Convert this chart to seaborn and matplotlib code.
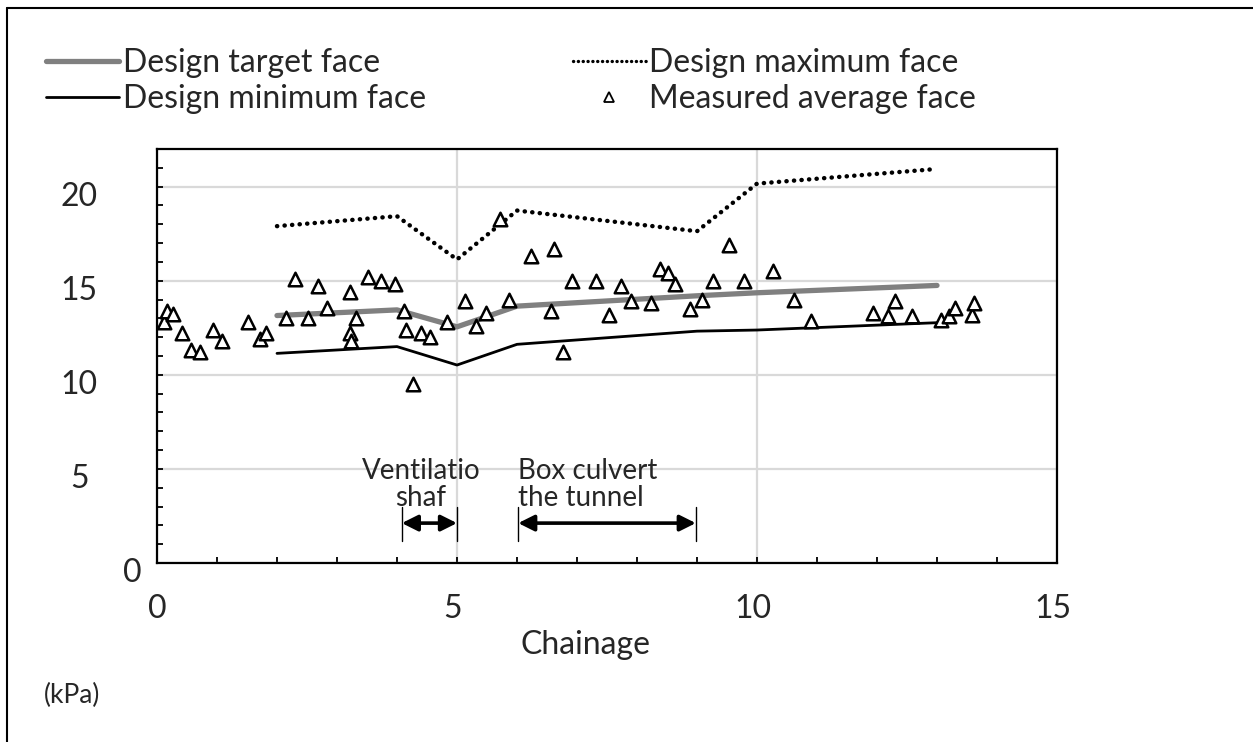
import matplotlib
matplotlib.use("Agg")
import matplotlib.pyplot as plt
import matplotlib.transforms as mtransforms
from matplotlib.lines import Line2D
from matplotlib.ticker import MultipleLocator
import seaborn as sns
import pandas as pd

# ---------------- data ----------------
design_x = [2, 4, 5, 6, 9, 10, 13]
design_target = [13.15, 13.45, 12.55, 13.65, 14.2, 14.36, 14.75]
design_min = [11.14, 11.5, 10.52, 11.62, 12.32, 12.38, 12.77]
design_max = [17.9, 18.43, 16.13, 18.73, 17.63, 20.16, 20.94]

meas_x = [0.12, 0.17, 0.26, 0.41, 0.56, 0.72, 0.94, 1.08, 1.51, 1.71, 1.82, 2.15,
          2.30, 2.51, 2.69, 2.84, 3.21, 3.22, 3.24, 3.32, 3.51, 3.73, 3.96, 4.11,
          4.15, 4.27, 4.40, 4.55, 4.84, 5.13, 5.32, 5.48, 5.71, 5.86, 6.23, 6.56,
          6.61, 6.76, 6.91, 7.32, 7.54, 7.73, 7.90, 8.23, 8.38, 8.52, 8.63, 8.89,
          9.09, 9.26, 9.54, 9.79, 10.27, 10.62, 10.90, 11.93, 12.19, 12.30, 12.59,
          13.07, 13.20, 13.30, 13.59, 13.62]
meas_y = [12.8, 13.4, 13.25, 12.2, 11.3, 11.2, 12.4, 11.8, 12.8, 11.9, 12.2, 13.0,
          15.07, 13.0, 14.7, 13.56, 14.4, 12.2, 11.8, 13.0, 15.2, 14.98, 14.8, 13.4,
          12.4, 9.5, 12.2, 12.0, 12.8, 13.9, 12.6, 13.3, 18.3, 14.0, 16.3, 13.4,
          16.7, 11.2, 15.0, 15.0, 13.2, 14.7, 13.9, 13.8, 15.6, 15.4, 14.8, 13.5,
          14.0, 15.0, 16.9, 15.0, 15.5, 14.0, 12.85, 13.3, 13.1, 13.9, 13.1,
          12.9, 13.1, 13.56, 13.2, 13.8]

legend_labels = ["Design target face", "Design minimum face",
                 "Design maximum face", "Measured average face"]
x_ticks = [0, 5, 10, 15]
y_ticks = [0, 5, 10, 15, 20]
x_label = "Chainage"
unit_label = "(kPa)"

vent_span = [4.08, 5.0]
vent_text = "Ventilatio\nshaf"
culvert_span = [6.02, 8.98]
culvert_text = "Box culvert\nthe tunnel"
span_y = 2.12

# ---------------- style ----------------
sns.set_theme(style="white")
plt.rcParams["font.family"] = ["Lato", "DejaVu Sans"]

W, H = 1253, 742
fig = plt.figure(figsize=(W / 100, H / 100), dpi=100)
ax = fig.add_axes([157 / W, 1 - 563 / H, (1057 - 157) / W, (563 - 149) / H])

df_design = pd.DataFrame({"x": design_x, "target": design_target,
                          "min": design_min, "max": design_max})
df_meas = pd.DataFrame({"x": meas_x, "y": meas_y})

sns.lineplot(data=df_design, x="x", y="target", ax=ax, color="#808080",
             lw=3.8, sort=False, estimator=None, solid_capstyle="round")
sns.lineplot(data=df_design, x="x", y="min", ax=ax, color="black",
             lw=2.0, sort=False, estimator=None)
sns.lineplot(data=df_design, x="x", y="max", ax=ax, color="black",
             lw=3.2, sort=False, estimator=None)
max_line = ax.lines[-1]
max_line.set_linestyle((0, (0.05, 1.65)))
max_line.set_dash_capstyle("round")

sns.scatterplot(data=df_meas, x="x", y="y", ax=ax, marker="^", s=95,
                facecolor="white", edgecolor="black", linewidth=1.8, zorder=5)

ax.set_xlim(0, 15)
ax.set_ylim(0, 22)
ax.set_xticks(x_ticks)
ax.set_yticks(y_ticks)
ax.xaxis.set_minor_locator(MultipleLocator(1))
ax.yaxis.set_minor_locator(MultipleLocator(1))
ax.grid(True, which="major", color="#d9d9d9", lw=1.6)
ax.set_axisbelow(True)
for sp in ax.spines.values():
    sp.set_color("black")
    sp.set_linewidth(1.6)

ax.tick_params(axis="both", which="both", direction="in", color="black",
               width=1.3, bottom=True, left=True, top=False, right=False)
ax.tick_params(axis="both", which="major", length=4)
ax.tick_params(axis="both", which="minor", length=4)
ax.tick_params(axis="x", which="major", labelsize=23, pad=22)
ax.tick_params(axis="y", which="major", labelsize=23, pad=56)
ax.set_xlabel("")
ax.set_ylabel("")

# y tick labels: centred, shifted down a little (as in the reference)
down = mtransforms.ScaledTranslation(0, -7 / 100, fig.dpi_scale_trans)
for lab in ax.get_yticklabels():
    lab.set_horizontalalignment("center")
    if lab.get_text() == "0":
        lab.set_transform(lab.get_transform() + down +
                          mtransforms.ScaledTranslation(53 / 100, 0, fig.dpi_scale_trans))
    else:
        lab.set_transform(lab.get_transform() + down)
left_shift = mtransforms.ScaledTranslation(-4 / 100, 0, fig.dpi_scale_trans)
for lab in ax.get_xticklabels():
    if lab.get_text() != "0":
        lab.set_transform(lab.get_transform() + left_shift)

# annotations (spans)
for span in (vent_span, culvert_span):
    ax.annotate("", xy=(span[0], span_y), xytext=(span[1], span_y),
                arrowprops=dict(arrowstyle="<|-|>", color="black", lw=2.6,
                                mutation_scale=24, shrinkA=0, shrinkB=0))
    for xv in span:
        ax.plot([xv, xv], [1.17, 2.97], color="black", lw=1.0)
ax.text(4.4, 2.75, vent_text, ha="center", va="bottom",
        fontsize=20, linespacing=1.05)
ax.text(culvert_span[0], 2.75, culvert_text, ha="left", va="bottom",
        fontsize=20, linespacing=1.05)

fig.text(585 / W, 1 - 645 / H, x_label, ha="center", va="center", fontsize=23)
fig.text(72 / W, 1 - 695 / H, unit_label, ha="center", va="center", fontsize=19)

# legend
handles = [
    Line2D([], [], color="#808080", lw=3.8),
    Line2D([], [], color="black", lw=2.0),
    Line2D([], [], color="black", lw=2.4, linestyle=(0, (0.05, 1.4)),
           dash_capstyle="round"),
    Line2D([], [], color="black", lw=0, marker="^", markersize=7,
           markerfacecolor="white", markeredgecolor="black", markeredgewidth=1.3),
]
fig.legend(handles, legend_labels, ncol=2, loc="upper left",
           bbox_to_anchor=(46 / W, 1 - 48 / H), frameon=False, fontsize=23,
           handlelength=2.3, handletextpad=0.1, columnspacing=4.6,
           labelspacing=0.18, borderpad=0, borderaxespad=0)

# outer frame (left and top)
fig.add_artist(Line2D([7 / W, 7 / W], [0, 1 - 8 / H], transform=fig.transFigure,
                      color="black", lw=1.5))
fig.add_artist(Line2D([7 / W, 1], [1 - 8 / H, 1 - 8 / H], transform=fig.transFigure,
                      color="black", lw=1.5))

fig.savefig("out.png", dpi=100)
